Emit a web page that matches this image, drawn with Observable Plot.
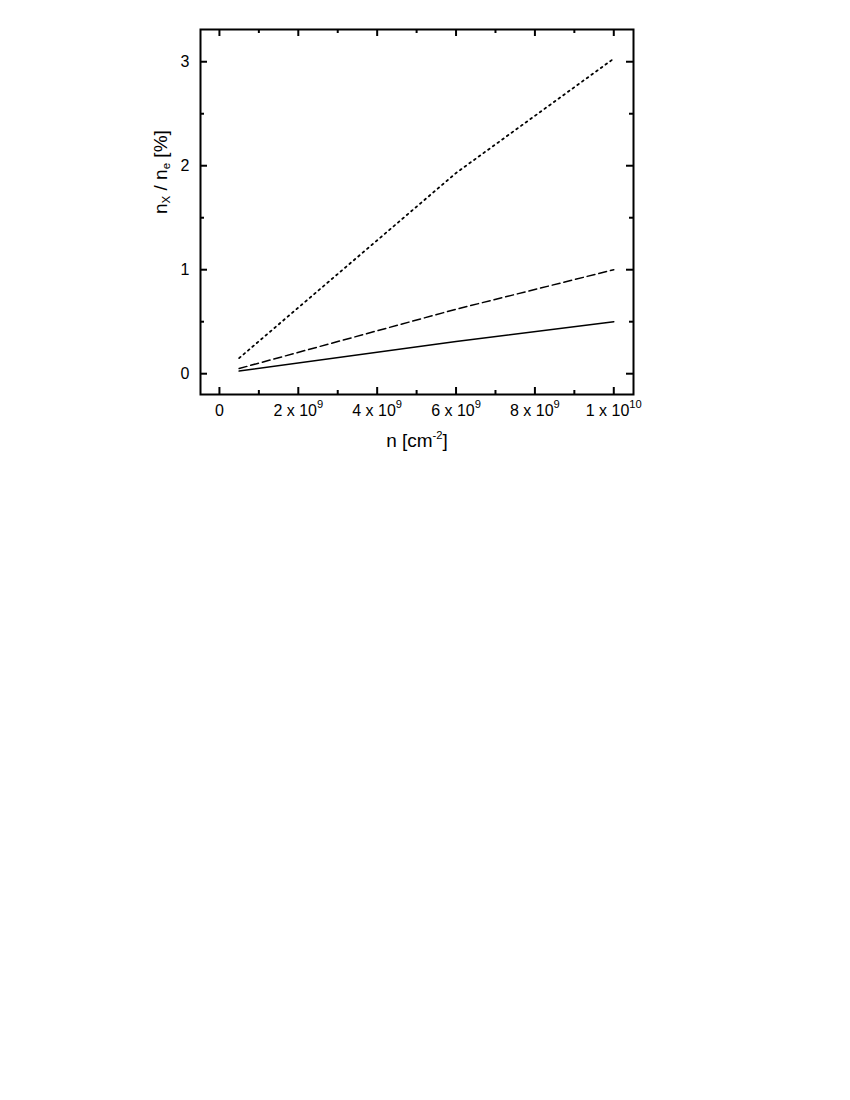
<!DOCTYPE html>
<html>
<head>
<meta charset="utf-8">
<script src="https://cdn.jsdelivr.net/npm/d3@7"></script>
<script src="https://cdn.jsdelivr.net/npm/@observablehq/plot@0.6"></script>
<style>
  body { margin: 0; background: #fff; }
  #chart svg { display: block; }
</style>
</head>
<body>
<div id="chart"></div>
<script>
// Data
const nValues = [0.5e9, 6e9, 10e9];
const solidValues = [0.025, 0.31, 0.5];
const dashedValues = [0.05, 0.62, 1.0];
const dottedValues = [0.15, 1.93, 3.03];

const xMajorTicks = [0, 2e9, 4e9, 6e9, 8e9, 1e10];
const xMinorTicks = [1e9, 3e9, 5e9, 7e9, 9e9];
const xTickLabels = ["0", "2 x 10^9", "4 x 10^9", "6 x 10^9", "8 x 10^9", "1 x 10^10"];
const yMajorTicks = [0, 1, 2, 3];
const yMinorTicks = [0.5, 1.5, 2.5];
const yTickLabels = ["0", "1", "2", "3"];

const rows = (vals, series) => nValues.map((n, i) => ({n, v: vals[i], series}));
const solid = rows(solidValues, "solid");
const dashed = rows(dashedValues, "dashed");
const dotted = rows(dottedValues, "dotted");

const W = 850, H = 480;
const mL = 200, mR = 217, mT = 29, mB = 86;
const pw = W - mL - mR, ph = H - mT - mB;
const maj = 7, min = 4;
const font = "Liberation Sans, Arial, sans-serif";

const chart = Plot.plot({
  width: W, height: H,
  marginLeft: mL, marginRight: mR, marginTop: mT, marginBottom: mB,
  style: {fontFamily: font, background: "white"},
  x: {domain: [-0.48e9, 10.5e9], axis: null},
  y: {domain: [-0.2, 3.31], axis: null},
  marks: [
    Plot.lineY(solid, {x: "n", y: "v", stroke: "black", strokeWidth: 1.5}),
    Plot.lineY(dashed, {x: "n", y: "v", stroke: "black", strokeWidth: 1.5, strokeDasharray: "8,4"}),
    Plot.lineY(dotted, {x: "n", y: "v", stroke: "black", strokeWidth: 1.8, strokeDasharray: "1.8,4"}),
    // inward ticks
    Plot.tickX(xMajorTicks, {x: d => d, insetTop: ph - maj, strokeWidth: 2}),
    Plot.tickX(xMinorTicks, {x: d => d, insetTop: ph - min, strokeWidth: 2}),
    Plot.tickX(xMajorTicks, {x: d => d, insetBottom: ph - maj, strokeWidth: 2}),
    Plot.tickX(xMinorTicks, {x: d => d, insetBottom: ph - min, strokeWidth: 2}),
    Plot.tickY(yMajorTicks, {y: d => d, insetRight: pw - maj, strokeWidth: 2}),
    Plot.tickY(yMinorTicks, {y: d => d, insetRight: pw - min, strokeWidth: 2}),
    Plot.tickY(yMajorTicks, {y: d => d, insetLeft: pw - maj, strokeWidth: 2}),
    Plot.tickY(yMinorTicks, {y: d => d, insetLeft: pw - min, strokeWidth: 2}),
    Plot.frame({stroke: "black", strokeWidth: 2}),
    // tick labels
    Plot.text(xMajorTicks, {x: d => d, frameAnchor: "bottom", dy: 21, text: (d, i) => xTickLabels[i], fontSize: 16, fill: "black", textAnchor: "middle"}),
    Plot.text(yMajorTicks, {y: d => d, frameAnchor: "left", dx: -11, text: (d, i) => yTickLabels[i], fontSize: 16, fill: "black", textAnchor: "end"}),
    // axis titles
    Plot.text(["n [cm^-2]"], {frameAnchor: "bottom", dy: 52, text: d => d, fontSize: 19, fill: "black", textAnchor: "middle"}),
    Plot.text(["n_X / n_e [%]"], {frameAnchor: "left", dx: -40, dy: 2, rotate: -90, text: d => d, fontSize: 19, fill: "black", textAnchor: "start"})
  ]
});

// Convert ^ and _ markup into superscript/subscript tspans
d3.select(chart).selectAll("text").each(function() {
  const el = d3.select(this);
  const t = el.text();
  if (!/[\^_]/.test(t)) return;
  const fs = parseFloat(el.attr("font-size")) || 16;
  el.text(null);
  const parts = t.split(/([\^_][^\s\]]+)/);
  let pending = 0;
  for (const p of parts) {
    if (!p) continue;
    if (p[0] === "^") {
      const shift = -0.45 * fs;
      el.append("tspan").attr("dy", shift - pending).attr("font-size", 0.7 * fs).text(p.slice(1));
      pending = -shift;
      pending = shift;
    } else if (p[0] === "_") {
      const shift = 0.22 * fs;
      el.append("tspan").attr("dy", shift - pending).attr("font-size", 0.72 * fs).text(p.slice(1));
      pending = shift;
    } else {
      const ts = el.append("tspan").text(p);
      if (pending) ts.attr("dy", -pending);
      pending = 0;
    }
  }
});

document.getElementById("chart").appendChild(chart);
</script>
</body>
</html>
